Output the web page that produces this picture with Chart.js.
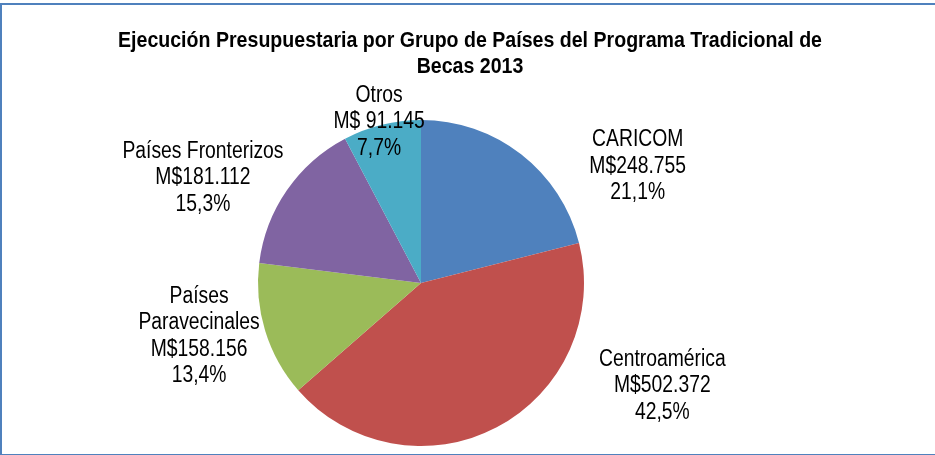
<!DOCTYPE html>
<html>
<head>
<meta charset="utf-8">
<script src="https://cdn.jsdelivr.net/npm/chart.js@4/dist/chart.umd.min.js"></script>
<style>
    html, body { margin: 0; padding: 0; background: #fff; overflow: hidden; }
    #marco {
        position: absolute; left: 0; top: 3px; width: 960px; height: 449px;
        border-top: 2px solid #4f81bd; border-left: 2px solid #4f81bd; border-bottom: 2px solid #4f81bd;
    }
    #wrap { position: absolute; left: 0; top: 0; width: 935px; height: 455px; }
</style>
</head>
<body>
<div id="marco"></div>
<div id="wrap"><canvas id="grafico" width="935" height="455"></canvas></div>
<script>
    // Datos
    const grupos = ['CARICOM', 'Centroamérica', 'Países Paravecinales', 'Países Fronterizos', 'Otros'];
    const montos = [248755, 502372, 158156, 181112, 91145];
    const montosTexto = ['M$248.755', 'M$502.372', 'M$158.156', 'M$181.112', 'M$ 91.145'];
    const porcentajes = ['21,1%', '42,5%', '13,4%', '15,3%', '7,7%'];
    const lineasNombre = [['CARICOM'], ['Centroamérica'], ['Países', 'Paravecinales'], ['Países Fronterizos'], ['Otros']];
    const tituloLineas = ['Ejecución Presupuestaria por Grupo de Países del Programa Tradicional de', 'Becas 2013'];

    const colores = ['#4f81bd', '#c0504d', '#9bbb59', '#8064a2', '#4bacc6'];

    // Ubicación de las etiquetas: desvío de ángulo (grados) y factor del radio
    const posEtiquetas = [
        { desvio: 23.8, factor: 1.51 },
        { desvio: -39.2, factor: 1.61 },
        { desvio: 3.6, factor: 1.40 },
        { desvio: -8.9, factor: 1.485 },
        { desvio: -0.7, factor: 1.02 }
    ];

    // no hay Arial Narrow: se comprime la Liberation Sans a lo ancho
    const fuente = '"Liberation Sans", Arial, sans-serif';

    function textoAngosto(ctx, t, x, y, escala) {
        ctx.save();
        ctx.translate(x, y);
        ctx.scale(escala, 1);
        ctx.fillText(t, 0, 0);
        ctx.restore();
    }

    const etiquetasPlugin = {
        id: 'etiquetas',
        afterDatasetsDraw(chart) {
            const ctx = chart.ctx;
            const meta = chart.getDatasetMeta(0);
            ctx.save();
            ctx.fillStyle = '#000';
            ctx.font = '23px ' + fuente;
            ctx.textAlign = 'center';
            ctx.textBaseline = 'middle';
            meta.data.forEach(function(arc, i) {
                const p = arc.getProps(['x', 'y', 'startAngle', 'endAngle', 'outerRadius'], true);
                const ang = (p.startAngle + p.endAngle) / 2 + posEtiquetas[i].desvio * Math.PI / 180;
                const d = p.outerRadius * posEtiquetas[i].factor;
                const cx = p.x + d * Math.cos(ang);
                const cy = p.y + d * Math.sin(ang);
                const lineas = lineasNombre[i].concat([montosTexto[i], porcentajes[i]]);
                const alto = 26.5;
                const y0 = cy - (lineas.length - 1) * alto / 2;
                lineas.forEach(function(t, k) {
                    textoAngosto(ctx, t, cx, y0 + k * alto, 0.84);
                });
            });
            ctx.restore();
        }
    };

    const tituloPlugin = {
        id: 'tituloCustom',
        afterDraw(chart) {
            const ctx = chart.ctx;
            ctx.save();
            ctx.fillStyle = '#000';
            ctx.font = 'bold 22px ' + fuente;
            ctx.textAlign = 'center';
            ctx.textBaseline = 'middle';
            tituloLineas.forEach(function(t, k) {
                textoAngosto(ctx, t, 470, 41 + k * 26, 0.89);
            });
            ctx.restore();
        }
    };

    new Chart(document.getElementById('grafico'), {
        type: 'pie',
        data: {
            labels: grupos,
            datasets: [{
                data: montos,
                backgroundColor: colores,
                borderWidth: 0
            }]
        },
        options: {
            responsive: false,
            animation: false,
            layout: {
                padding: { top: 120, bottom: 9, left: 200, right: 293 }
            },
            plugins: {
                legend: { display: false },
                tooltip: { enabled: false },
                title: { display: false }
            }
        },
        plugins: [etiquetasPlugin, tituloPlugin]
    });
</script>
</body>
</html>
